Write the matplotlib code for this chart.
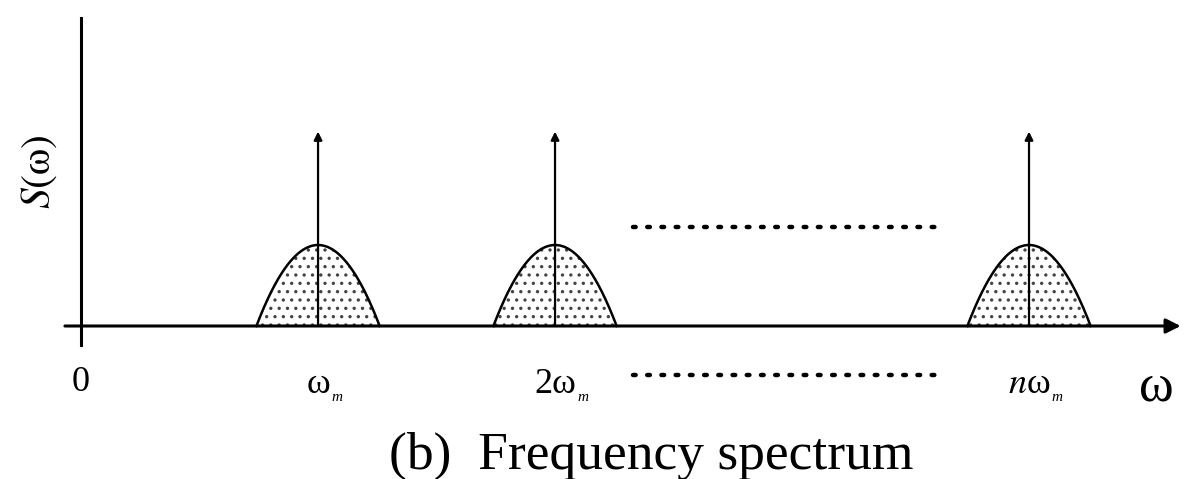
import numpy as np
import matplotlib.pyplot as plt

plt.rcParams['mathtext.fontset'] = 'stix'
plt.rcParams['font.family'] = ['Liberation Serif', 'DejaVu Serif']
plt.rcParams['hatch.linewidth'] = 1.2

# Harmonic positions (in units of omega_m) and their labels
harmonics = [1, 2, 4]
harmonic_labels = ['ω', '2ω', r'$\mathit{n}$ω']
lobe_height = 1.0       # height of each spectral lobe
lobe_halfwidth = 0.26   # half-width of each lobe
impulse_height = 2.4    # height of the impulse arrow at each harmonic
yaxis_top = 3.8

fig = plt.figure(figsize=(11.84, 4.79), dpi=100)
ax = fig.add_axes([0, 0, 1, 1])
ax.set_xlim(-0.342, 4.654)
ax.set_ylim(-1.889, 4.025)
ax.axis('off')

# axes
ax.plot([0, 0], [-0.235, yaxis_top], color='black', lw=2.2)
ax.annotate('', xy=(4.64, 0), xytext=(-0.068, 0),
            arrowprops=dict(arrowstyle='-|>', color='black', lw=2.2,
                            mutation_scale=22, shrinkA=0, shrinkB=0))

# lobes + impulses
for h in harmonics:
    x = np.linspace(h - lobe_halfwidth, h + lobe_halfwidth, 200)
    y = lobe_height * (1 - ((x - h) / lobe_halfwidth) ** 2)
    ax.fill_between(x, 0, y, facecolor='white', edgecolor='#444444',
                    hatch='..', lw=0)
    ax.plot(x, y, color='black', lw=1.8)
    ax.annotate('', xy=(h, impulse_height), xytext=(h, 0),
                arrowprops=dict(arrowstyle='-|>', color='black', lw=1.6,
                                mutation_scale=12, shrinkA=0, shrinkB=0))

# dotted "continues" lines
for yd in [1.22, -0.605]:
    ax.plot([2.33, 3.62], [yd, yd], color='black', lw=3.2,
            dashes=(0.6, 2.6), dash_capstyle='round')

# labels
ax.text(0, -0.70, '0', ha='center', va='center', fontsize=26)
for h, lab in zip(harmonics, harmonic_labels):
    t = ax.text(h, -0.72, lab, ha='center', va='center', fontsize=26)
    # small subscript m tucked under the right edge of the label
    ax.annotate('m', xy=(1, 0), xycoords=t, xytext=(1, 7),
                textcoords='offset points', ha='left', va='top',
                fontsize=11, style='italic')
ax.text(4.536, -0.76, 'ω', ha='center', va='center', fontsize=38)
ax.text(-0.177, 1.90, r'$\mathit{S}(\mathrm{\omega})$', ha='center',
        va='center', fontsize=30, rotation=90)
ax.text(2.405, -1.605, '(b)  Frequency spectrum', ha='center', va='center',
        fontsize=38.5)

fig.savefig('out.png', dpi=100)
